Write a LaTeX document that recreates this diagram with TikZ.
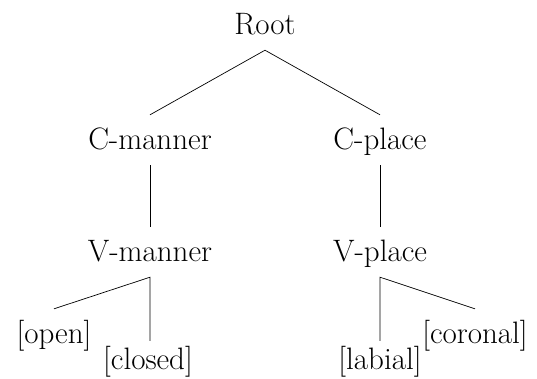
\documentclass[tikz,border=0pt]{standalone}
\usetikzlibrary{positioning}
\tikzstyle{feat}=[inner xsep=2pt,inner ysep=9pt,text height=25pt,text depth=7pt,
  font=\fontsize{31}{36}\selectfont]
\tikzstyle{branch}=[line width=.7pt]

\begin{document}
\begin{tikzpicture}[x=1pt, y=-1pt, on grid]
  \useasboundingbox (0,0) rectangle (537,378);
  \node[feat, anchor=base]                 (root)  at (265,34) {Root};
  \node[feat, below left=115pt and 115pt of root]   (cman)  {C-manner};
  \node[feat, below right=115pt and 115pt of root]  (cpl)   {C-place};
  \node[feat, below=112pt of cman]                 (vman)  {V-manner};
  \node[feat, below=112pt of cpl]                  (vpl)   {V-place};
  \node[feat, below left=82pt and 96pt of vman]    (open)  {[open]};
  \node[feat, below left=108pt and 2pt of vman]    (closed){[closed]};
  \node[feat, below=108pt of vpl]                  (lab)   {[labial]};
  \node[feat, below right=82pt and 95pt of vpl]    (cor)   {[coronal]};

  \draw[branch] (cman.north) -- (root.south) -- (cpl.north);
  \draw[branch] (cman) -- (vman) (cpl) -- (vpl);
  \draw[branch] (open.north) -- (vman.south) -- ([yshift=-6pt]vman.south |- closed.north);
  \draw[branch] ([yshift=-6pt]lab.north) -- (vpl.south) -- (cor.north);
\end{tikzpicture}
\end{document}
